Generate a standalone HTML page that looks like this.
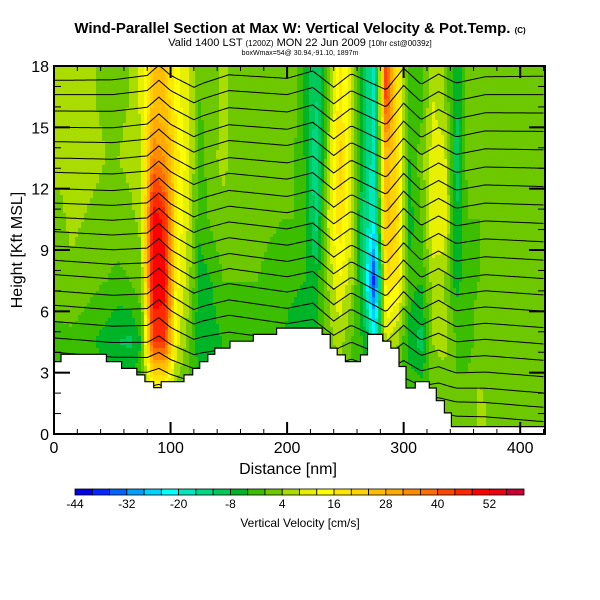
<!DOCTYPE html>
<html><head><meta charset="utf-8"><style>
html,body{margin:0;padding:0;background:#fff;}
svg{display:block;font-family:"Liberation Sans",sans-serif;}
</style></head><body>
<svg id="chart" width="600" height="600" viewBox="0 0 600 600">
<text x="300" y="33" text-anchor="middle" font-size="15" font-weight="bold">Wind-Parallel Section at Max W: Vertical Velocity &amp; Pot.Temp. <tspan font-size="8">(C)</tspan></text>
<text x="300" y="46" text-anchor="middle" font-size="11">Valid 1400 LST <tspan font-size="8">(1200Z)</tspan> MON 22 Jun 2009 <tspan font-size="8">[10hr cst@0039z]</tspan></text>
<text x="300" y="55" text-anchor="middle" font-size="7">boxWmax=54@ 30.94,-91.10, 1897m</text>
<defs><clipPath id="pc"><rect x="54" y="66" width="491" height="368"/></clipPath></defs>
<g id="field" clip-path="url(#pc)"></g>
<g id="contours" clip-path="url(#pc)"></g>
<g id="terrain" clip-path="url(#pc)"></g>
<g id="axes"></g>
<g id="cbar"></g>
<text x="288" y="474" text-anchor="middle" font-size="16">Distance [nm]</text>
<text transform="translate(22,250) rotate(-90)" text-anchor="middle" font-size="16">Height [Kft MSL]</text>
<text x="300" y="527" text-anchor="middle" font-size="12">Vertical Velocity [cm/s]</text>
</svg>
<script>
// ---- data ----
const colX = [5,15,25,35,45,55,65,75,85,95,105,115,125,135,145,155,165,175,185,195,205,215,225,235,245,255,265,275,285,295,305,315,325,335,345,355,365,375,385,395,405,415,425];
const rowH = [1.5,4.5,7.5,10.5,13.5,16.5];
const W = [
[0,-1,2,3,5,5],[0,-1,3,5,6,5],[0,-2,2,4,6,5],[0,-4,1,3,5,4],[0,-6,0,2,4,3],[0,-8,-1,2,4,3],[0,-9,0,3,5,4],[0,-4,3,5,8,9],
[0,44,52,52,36,24],[0,44,50,46,32,24],[0,10,14,16,18,14],[0,2,6,8,10,8],[0,-8,-6,-3,-2,0],[0,-6,-4,1,3,2],[0,-4,0,3,5,5],
[0,-4,0,2,3,3],[0,-2,0,2,3,3],[0,0,0,2,2,2],[0,0,-2,1,2,2],[0,-4,-2,0,2,3],[0,-6,-3,0,1,2],[0,-8,-4,-2,-4,-6],
[0,-4,-6,-14,-16,-12],[0,2,4,8,4,2],[0,6,12,20,22,18],[0,0,6,8,10,8],[0,-4,-10,-12,-8,-8],[0,-18,-40,-20,-20,-20],
[0,8,20,26,28,44],[0,4,16,20,18,16],[0,-6,-2,-6,-4,-2],[0,-10,-4,0,2,-2],[0,4,6,12,10,8],[0,6,4,12,10,4],
[0,0,-6,-8,-12,-8],[2,-2,-1,0,2,2],[5,2,0,0,1,2],[3,0,0,0,0,2],[1,2,0,0,0,0],[2,0,0,0,2,0],[1,2,0,2,2,0],[2,0,0,0,2,2],[2,2,0,0,2,2]
];
const terrEnd = [6,45,58,71,78,85.5,92,111.5,119,125,132,138,151,171,191,230,237,243,250,263,269,282,289,296,302,310,322,328,335,341,421];
const terrH = [3.54,3.9,3.54,3.21,2.89,2.56,2.27,2.56,2.89,3.21,3.54,3.9,4.2,4.54,4.87,5.18,4.87,4.2,3.87,3.54,3.87,4.87,4.54,4.2,3.3,2.25,2.56,2.25,1.63,1.03,0.36];
const lineLeft = [17.3,16.6,15.8,15.0,14.3,13.5,12.8,12.0,11.3,10.6,9.9,9.2,8.5,7.8,7.0,6.3,5.5,4.7,4.0,3.3,2.6];
const lineRight = [17.5,16.6,15.7,14.8,13.9,13.0,12.1,11.2,10.3,9.4,8.5,7.6,6.8,6.0,5.2,4.4,3.6,2.8,2.0,1.3,0.6];
const dispX = [0,50,80,90,100,120,128,150,200,222,240,255,270,285,300,315,330,345,370,421];
const dispV = [0,0,0.2,0.7,0.2,-0.4,-0.2,0.2,0,0.35,-0.45,0.2,-0.2,-0.6,0.45,-0.35,0.15,-0.3,0,0];
const cbarLevels = [-44,-40,-36,-32,-28,-24,-20,-16,-12,-8,-4,0,4,8,12,16,20,24,28,32,36,40,44,48,52,56,60];
const cbarLabels = [-44,-32,-20,-8,4,16,28,40,52];
const xTicks = [0,100,200,300,400];
const yTicks = [0,3,6,9,12,15,18];
const palette = ["#0000e6","#0028ff","#0064ff","#00a0ff","#00d2ff","#00ffff","#00e6be","#00d782","#00c85a","#00b428","#3cbe00","#6ec800","#aadc00","#e6f000","#ffff00","#ffe600","#ffd200","#ffbe00","#ffaa00","#ff8c00","#ff6e00","#ff4600","#ff2800","#ff0000","#eb0014","#c80032"];
// ---- scales ----
const NS="http://www.w3.org/2000/svg";
const sx = v => 54 + v*1.1655;
const sy = h => 434 - h*20.444;
const xMax = 421;
function mk(tag, attrs, parent){const e=document.createElementNS(NS,tag);for(const k in attrs)e.setAttribute(k,attrs[k]);parent.appendChild(e);return e;}
function lerpArr(xa, ya, x){
  if(x<=xa[0])return ya[0]; if(x>=xa[xa.length-1])return ya[ya.length-1];
  for(let i=0;i<xa.length-1;i++){if(x<=xa[i+1]){const t=(x-xa[i])/(xa[i+1]-xa[i]);return ya[i]+t*(ya[i+1]-ya[i]);}}
}
function fieldAt(x,h){
  let i=0; while(i<colX.length-2 && x>colX[i+1]) i++;
  let tx=(x-colX[i])/(colX[i+1]-colX[i]); tx=Math.max(0,Math.min(1,tx));
  let j=0; while(j<rowH.length-2 && h>rowH[j+1]) j++;
  let ty=(h-rowH[j])/(rowH[j+1]-rowH[j]); ty=Math.max(0,Math.min(1,ty));
  const a=W[i][j]*(1-tx)+W[i+1][j]*tx, b=W[i][j+1]*(1-tx)+W[i+1][j+1]*tx;
  return a*(1-ty)+b*ty;
}
function colorOf(v){let k=Math.floor((v-cbarLevels[0])/4);k=Math.max(0,Math.min(palette.length-1,k));return palette[k];}
// ---- field ----
const field=document.getElementById('field');
const cw=3, ch=3;
for(let px=54;px<545;px+=cw){
  const x=(px+cw/2-54)/1.1655;
  let runStart=66, runCol=null;
  for(let py=66;py<434+ch;py+=ch){
    const h=(434-(py+ch/2))/20.444;
    const c = py<434 ? colorOf(fieldAt(x,h)) : null;
    if(c!==runCol){
      if(runCol){const r=mk('rect',{x:px,y:runStart,width:cw+0.5,height:py-runStart+0.5,fill:runCol},field);
        
        }
      runCol=c; runStart=py;
    }
  }
}
// ---- contours ----
const cont=document.getElementById('contours');
for(let L=0;L<lineLeft.length;L++){
  let d='';
  for(let x=0;x<=xMax;x+=2){
    const base=lineLeft[L]+(lineRight[L]-lineLeft[L])*x/xMax;
    const amp = base>6?1:Math.max(0.3,base/6);
    const h=base+amp*lerpArr(dispX,dispV,x);
    d+=(x===0?'M':'L')+sx(x).toFixed(1)+','+sy(h).toFixed(1);
  }
  const p=mk('path',{d:d,fill:'none',stroke:'#000','stroke-width':1},cont);
  
  
}
// ---- terrain ----
const terr=document.getElementById('terrain');
let td='M'+sx(0)+','+sy(0); let prev=0;
for(let i=0;i<terrEnd.length;i++){td+=' L'+sx(prev).toFixed(1)+','+sy(terrH[i]).toFixed(1)+' L'+sx(terrEnd[i]).toFixed(1)+','+sy(terrH[i]).toFixed(1);prev=terrEnd[i];}
td+=' L'+sx(xMax+5)+','+sy(terrH[terrH.length-1])+' L'+sx(xMax+5)+','+sy(0)+'Z';
const tp=mk('path',{d:td,fill:'#fff',stroke:'#000','stroke-width':1.2},terr);


// ---- axes ----
const ax=document.getElementById('axes');
const frame=mk('rect',{x:54,y:66,width:491,height:368,fill:'none',stroke:'#000','stroke-width':2},ax);


for(let v=0;v<=420;v+=20){
  const major=xTicks.includes(v), len=major?12:5;
  mk('line',{x1:sx(v),x2:sx(v),y1:434,y2:434-len,stroke:'#000','stroke-width':major?2:1},ax);
  mk('line',{x1:sx(v),x2:sx(v),y1:66,y2:66+len,stroke:'#000','stroke-width':major?2:1},ax);
}
for(let v=0;v<=18;v+=1){
  const major=yTicks.includes(v), len=major?16:7;
  mk('line',{x1:54,x2:54+len,y1:sy(v),y2:sy(v),stroke:'#000','stroke-width':major?2:1},ax);
  mk('line',{x1:545,x2:545-len,y1:sy(v),y2:sy(v),stroke:'#000','stroke-width':major?2:1},ax);
}
xTicks.forEach(v=>{const t=mk('text',{x:sx(v),y:453,'text-anchor':'middle','font-size':16},ax);t.textContent=v;
  
  });
yTicks.forEach(v=>{const t=mk('text',{x:49,y:sy(v)+6,'text-anchor':'end','font-size':16},ax);t.textContent=v;
  
  });
// ---- colorbar ----
const cb=document.getElementById('cbar');
const bw=(524-75)/palette.length;
palette.forEach((c,i)=>{const r=mk('rect',{x:75+i*bw,y:489,width:bw,height:6,fill:c,stroke:'#000','stroke-width':0.8},cb);
  
  });
cbarLabels.forEach(v=>{const i=cbarLevels.indexOf(v);const t=mk('text',{x:75+i*bw,y:508,'text-anchor':'middle','font-size':12},cb);t.textContent=v;
  
  });
</script>
</body></html>
